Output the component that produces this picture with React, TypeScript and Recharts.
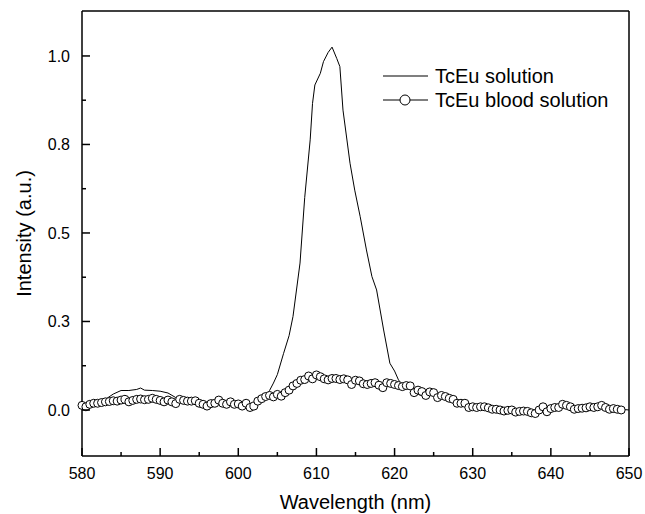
import React from 'react';
import { LineChart, Line, XAxis, YAxis, Legend } from 'recharts';

const FONT = '"Liberation Sans", Arial, Helvetica, sans-serif';

// TcEu solution (solid line)
const solutionWavelength = [
  580, 581, 582, 583, 584, 585, 586, 587, 587.5, 588, 589, 590, 591, 592, 593, 594, 595, 596, 597, 598,
  599, 600, 601, 602, 603, 604, 604.5, 605, 605.8, 606.5, 607, 607.9, 608.5, 609.2, 609.5, 609.8, 610.5,
  610.9, 611.5, 612, 612.6, 613, 613.4, 614.3, 614.9, 615.6, 616.4, 617.1, 617.7, 618.6, 619.4, 620,
  620.5, 621, 622, 623, 623.5, 624, 625, 626, 627, 628, 629, 630, 632, 634, 636, 638, 639, 640, 642,
  643, 644, 645, 646, 647, 648, 649, 650,
];
const solutionIntensity = [
  0.012, 0.015, 0.02, 0.03, 0.045, 0.055, 0.055, 0.058, 0.062, 0.056, 0.055, 0.053, 0.048, 0.035, 0.03,
  0.028, 0.025, 0.02, 0.02, 0.02, 0.018, 0.018, 0.015, 0.015, 0.025, 0.055, 0.076, 0.1, 0.16, 0.21,
  0.264, 0.415, 0.6, 0.763, 0.866, 0.918, 0.951, 0.984, 1.01, 1.025, 0.993, 0.97, 0.847, 0.697, 0.621,
  0.546, 0.452, 0.377, 0.339, 0.226, 0.132, 0.11, 0.085, 0.07, 0.06, 0.045, 0.04, 0.05, 0.045, 0.035,
  0.03, 0.02, 0.012, 0.008, 0.005, 0.0, -0.002, -0.003, 0.005, 0.005, 0.012, 0.005, 0.008, 0.012,
  0.015, 0.018, 0.005, 0.002, 0.0,
];

// TcEu blood solution (open circles)
const bloodWavelength = [
  580, 580.5, 581, 581.5, 582, 582.5, 583, 583.5, 584, 584.5,
  585, 585.5, 586, 586.5, 587, 587.5, 588, 588.5, 589, 589.5,
  590, 590.5, 591, 591.5, 592, 592.5, 593, 593.5, 594, 594.5,
  595, 595.5, 596, 596.5, 597, 597.5, 598, 598.5, 599, 599.5,
  600, 600.5, 601, 601.5, 602, 602.5, 603, 603.5, 604, 604.5,
  605, 605.5, 606, 606.5, 607, 607.5, 608, 608.5, 609, 609.5,
  610, 610.5, 611, 611.5, 612, 612.5, 613, 613.5, 614, 614.5,
  615, 615.5, 616, 616.5, 617, 617.5, 618, 618.5, 619, 619.5,
  620, 620.5, 621, 621.5, 622, 622.5, 623, 623.5, 624, 624.5,
  625, 625.5, 626, 626.5, 627, 627.5, 628, 628.5, 629, 629.5,
  630, 630.5, 631, 631.5, 632, 632.5, 633, 633.5, 634, 634.5,
  635, 635.5, 636, 636.5, 637, 637.5, 638, 638.5, 639, 639.5,
  640, 640.5, 641, 641.5, 642, 642.5, 643, 643.5, 644, 644.5,
  645, 645.5, 646, 646.5, 647, 647.5, 648, 648.5, 649,
];
const bloodIntensity = [
  0.013, 0.009, 0.016, 0.019, 0.019, 0.021, 0.023, 0.024, 0.026, 0.025,
  0.028, 0.03, 0.023, 0.027, 0.03, 0.031, 0.029, 0.03, 0.033, 0.03,
  0.027, 0.023, 0.028, 0.023, 0.018, 0.03, 0.027, 0.025, 0.025, 0.026,
  0.019, 0.016, 0.011, 0.018, 0.019, 0.028, 0.019, 0.016, 0.023, 0.016,
  0.017, 0.011, 0.019, 0.007, 0.011, 0.025, 0.032, 0.038, 0.041, 0.037,
  0.044, 0.039, 0.049, 0.056, 0.068, 0.075, 0.084, 0.086, 0.096, 0.088,
  0.099, 0.094, 0.088, 0.085, 0.089, 0.089, 0.086, 0.088, 0.085, 0.072,
  0.084, 0.082, 0.074, 0.072, 0.075, 0.077, 0.07, 0.063, 0.077, 0.075,
  0.072, 0.069, 0.066, 0.069, 0.068, 0.049, 0.056, 0.052, 0.041, 0.051,
  0.049, 0.035, 0.041, 0.038, 0.033, 0.03, 0.019, 0.019, 0.019, 0.007,
  0.009, 0.007, 0.009, 0.009, 0.006, 0.002, 0.002, 0.0, -0.003, -0.001,
  0.0, -0.006, -0.004, -0.003, -0.004, -0.008, -0.01, 0.0, 0.009, -0.005,
  0.004, 0.007, 0.007, 0.016, 0.013, 0.009, 0.002, 0.004, 0.005, 0.006,
  0.009, 0.007, 0.009, 0.013, 0.007, 0.002, 0.004, 0.002, 0.0,
];

const xTicks = [580, 585, 590, 595, 600, 605, 610, 615, 620, 625, 630, 635, 640, 645, 650];
const xMajor = [580, 590, 600, 610, 620, 630, 640, 650];
const yTicks = [0, 0.125, 0.25, 0.375, 0.5, 0.625, 0.75, 0.875, 1.0];
const yMajor = [0, 0.25, 0.5, 0.75, 1.0];
const yTickLabels = ['0.0', '0.3', '0.5', '0.8', '1.0'];

const solutionData = solutionWavelength.map((w, i) => ({ w, v: solutionIntensity[i] }));
const bloodData = bloodWavelength.map((w, i) => ({ w, v: bloodIntensity[i] }));

const BottomTick = (props: any) => {
  const { x, y, payload } = props;
  const major = xMajor.includes(payload.value);
  return (
    <g>
      <line x1={x} x2={x} y1={y} y2={y - (major ? 8 : 4)} stroke="#000" strokeWidth={1.5} />
      {major && (
        <text x={x} y={y + 23} textAnchor="middle" fontSize={16} fontFamily={FONT} fill="#000">
          {payload.value}
        </text>
      )}
    </g>
  );
};

const LeftTick = (props: any) => {
  const { x, y, payload } = props;
  const idx = yMajor.indexOf(payload.value);
  const major = idx >= 0;
  return (
    <g>
      <line x1={x} x2={x + (major ? 8 : 4)} y1={y} y2={y} stroke="#000" strokeWidth={1.5} />
      {major && (
        <text x={x - 12} y={y + 6} textAnchor="end" fontSize={16} fontFamily={FONT} fill="#000">
          {yTickLabels[idx]}
        </text>
      )}
    </g>
  );
};

const TopTick = (props: any) => {
  const { x, y } = props;
  return <line x1={x} x2={x} y1={y} y2={y + 2} stroke="#000" strokeWidth={1} />;
};

const RightTick = (props: any) => {
  const { x, y } = props;
  return <line x1={x} x2={x - 2} y1={y} y2={y} stroke="#000" strokeWidth={1} />;
};

const LegendBox = () => (
  <svg width={260} height={50} style={{ display: 'block' }}>
    <line x1={3} x2={48} y1={14} y2={14} stroke="#555" strokeWidth={1.5} />
    <text x={55} y={21} fontSize={20} fontFamily={FONT} fill="#000">TcEu solution</text>
    <line x1={3} x2={48} y1={38} y2={38} stroke="#555" strokeWidth={1.5} />
    <circle cx={25} cy={38} r={5} fill="#fff" stroke="#000" strokeWidth={1} />
    <text x={55} y={45} fontSize={20} fontFamily={FONT} fill="#000">TcEu blood solution</text>
  </svg>
);

export default function App() {
  return (
    <div style={{ position: 'absolute', left: 0, top: 0, width: 645, height: 514, background: '#fff' }}>
      <LineChart width={645} height={514} margin={{ top: 10, right: 0, bottom: 0, left: 0 }}>
        <XAxis
          dataKey="w"
          type="number"
          domain={[580, 650]}
          ticks={xTicks}
          interval={0}
          allowDuplicatedCategory={false}
          height={58}
          tickSize={0}
          tickMargin={0}
          tickLine={false}
          tick={<BottomTick />}
          axisLine={{ stroke: '#000', strokeWidth: 1.5 }}
          label={{ value: 'Wavelength (nm)', position: 'insideBottom', offset: 5, fontSize: 20, fontFamily: FONT, fill: '#000' }}
        />
        <XAxis
          xAxisId="top"
          dataKey="w"
          type="number"
          orientation="top"
          domain={[580, 650]}
          ticks={xTicks}
          interval={0}
          height={1}
          tickSize={0}
          tickMargin={0}
          tickLine={false}
          tick={<TopTick />}
          axisLine={{ stroke: '#000', strokeWidth: 1.5 }}
        />
        <YAxis
          type="number"
          domain={[-0.13, 1.127]}
          ticks={yTicks}
          interval={0}
          width={82}
          tickSize={0}
          tickMargin={0}
          tickLine={false}
          tick={<LeftTick />}
          axisLine={{ stroke: '#000', strokeWidth: 1.5 }}
          label={{ value: 'Intensity (a.u.)', angle: -90, position: 'insideLeft', offset: 24, fontSize: 20, fontFamily: FONT, fill: '#000', style: { textAnchor: 'middle' } }}
        />
        <YAxis
          yAxisId="right"
          orientation="right"
          type="number"
          domain={[-0.13, 1.127]}
          ticks={yTicks}
          interval={0}
          width={16}
          tickSize={0}
          tickMargin={0}
          tickLine={false}
          tick={<RightTick />}
          axisLine={{ stroke: '#000', strokeWidth: 1.5 }}
        />
        <Legend
          layout="vertical"
          align="center"
          verticalAlign="middle"
          wrapperStyle={{ left: 380, top: 62, width: 260 }}
          content={() => <LegendBox />}
        />
        <Line
          data={solutionData}
          dataKey="v"
          name="TcEu solution"
          type="linear"
          stroke="#000"
          strokeWidth={1}
          dot={false}
          isAnimationActive={false}
        />
        <Line
          data={bloodData}
          dataKey="v"
          name="TcEu blood solution"
          type="linear"
          stroke="#000"
          strokeWidth={1}
          dot={{ r: 4, fill: '#fff', stroke: '#000', strokeWidth: 1 }}
          isAnimationActive={false}
        />
      </LineChart>
    </div>
  );
}
